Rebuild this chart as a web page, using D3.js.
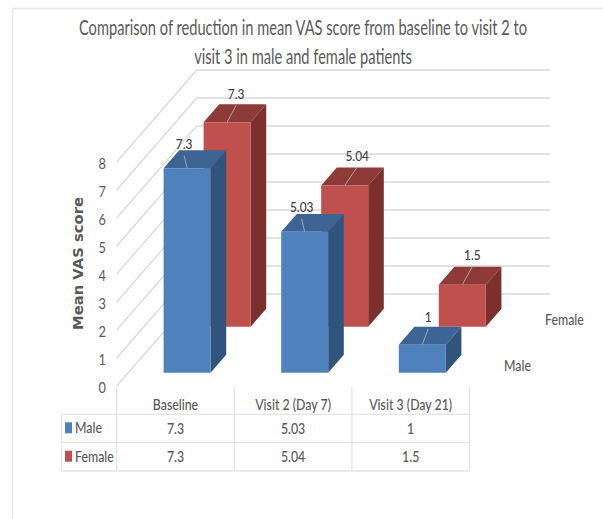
<!DOCTYPE html>
<html><head><meta charset="utf-8">
<script src="https://cdn.jsdelivr.net/npm/d3@7"></script>
<style>html,body{margin:0;padding:0;background:#fff}svg{display:block}</style>
</head><body><svg id="c" width="603" height="519"></svg>
<script>
const titleLines = ["Comparison of reduction in mean VAS score from baseline to visit 2 to","visit 3 in male and female patients"];
const categories = ["Baseline","Visit 2 (Day 7)","Visit 3 (Day 21)"];
const seriesNames = ["Male","Female"];
const maleValues = [7.3,5.03,1];
const femaleValues = [7.3,5.04,1.5];
const valueTicks = [0,1,2,3,4,5,6,7,8];
const yAxisTitle = "Mean VAS score";

const seriesData = [maleValues, femaleValues];
const colors = {
  Male:{front:"#4f81bd",top:"#3c6494",side:"#31547c"},
  Female:{front:"#c0504d",top:"#8e3a38",side:"#7b302e"}
};
const narrow = "Lato,'Open Sans',sans-serif";
const textCol = "#595959";
const gridCol = "#e2e2e2";

const svg = d3.select("#c");
const x = d3.scaleBand().domain(categories).range([116.7,469.5]);
const y = d3.scaleLinear().domain([0,8]).range([386,162]);
const depthBand = d3.scaleBand().domain(seriesNames).range([0,2]).paddingInner(0);
const dx = d3.scaleLinear().domain([0,2]).range([0,80]);
const dy = d3.scaleLinear().domain([0,2]).range([0,-92]);
const barW = 47, barDepth = 0.39, frontInset = 0.29;
const P = (px,v,d)=>[px+dx(d), y(v)+dy(d)];
// squeeze a text selection horizontally, the reference's type is condensed
const squeeze = (sel,k)=>sel.each(function(){
  const w = this.getComputedTextLength();
  d3.select(this).attr("lengthAdjust","spacingAndGlyphs").attr("textLength",w*k);
});

svg.append("path").attr("d","M12.5,519V8.5H603").attr("fill","none").attr("stroke","#e6e6e6").attr("stroke-width",1.3);

// title
const titleSel = svg.append("g").selectAll("text").data(titleLines).join("text")
  .attr("x",303).attr("y",(d,i)=>35+i*29).attr("text-anchor","middle")
  .attr("font-family",narrow).attr("font-size",21).attr("fill",textCol).text(d=>d);
squeeze(titleSel,448/titleSel.nodes()[0].getComputedTextLength());

// gridlines
const grid = svg.append("g").attr("fill","none");
grid.selectAll("path.side").data(valueTicks).join("path").attr("class","side")
  .attr("d",v=>d3.line()([P(x.range()[0],v,0),P(x.range()[0],v,2)]))
  .attr("stroke","#d9d9d9").attr("stroke-width",1.2);
grid.selectAll("path.back").data(valueTicks).join("path").attr("class","back")
  .attr("d",v=>d3.line()([P(x.range()[0],v,2),[550.7,y(v)+dy(2)]]))
  .attr("stroke",gridCol).attr("stroke-width",1.8);

// value tick labels
const axis = svg.append("g").attr("transform","translate(106,1.5)")
  .call(d3.axisLeft(y).tickValues(valueTicks).tickSize(0).tickPadding(0).tickFormat(d3.format("d")));
axis.select(".domain").remove();
axis.selectAll("text").attr("font-family",narrow).attr("font-size",15).attr("fill",textCol);
squeeze(axis.selectAll("text"),0.85);

// axis title
svg.append("text").attr("transform","translate(83,263.5) rotate(-90)").attr("text-anchor","middle")
  .attr("font-family","'DejaVu Sans',sans-serif").attr("font-weight","bold").attr("font-size",13.5)
  .attr("textLength",133).attr("lengthAdjust","spacingAndGlyphs")
  .attr("fill",textCol).text(yAxisTitle);

// 3D bars, back series first
const leaderOffsets = {Male:[[-3,-12.5],[-3,-13],[6,-16]],Female:[[9,-17],[12.5,-18.5],[10,-18]]};
const barsLayer = svg.append("g");
const labelsLayer = svg.append("g");
[1,0].forEach(si=>{
  const name = seriesNames[si], col = colors[name];
  const d0 = depthBand(name)+frontInset, d1 = d0+barDepth;
  const g = barsLayer.append("g");
  const rows = categories.map((c,i)=>({c,i,v:seriesData[si][i],l:x(c)+(x.bandwidth()-barW)/2}));
  const poly = pts=>"M"+pts.map(p=>p.join(",")).join("L")+"Z";
  g.selectAll("path.t").data(rows).join("path").attr("class","t").attr("fill",col.top)
    .attr("d",r=>poly([P(r.l,r.v,d0),P(r.l+barW,r.v,d0),P(r.l+barW,r.v,d1),P(r.l,r.v,d1)]));
  g.selectAll("path.s").data(rows).join("path").attr("class","s").attr("fill",col.side)
    .attr("d",r=>poly([P(r.l+barW,0,d0),P(r.l+barW,r.v,d0),P(r.l+barW,r.v,d1),P(r.l+barW,0,d1)]));
  g.selectAll("path.f").data(rows).join("path").attr("class","f").attr("fill",col.front)
    .attr("d",r=>poly([P(r.l,0,d0),P(r.l+barW,0,d0),P(r.l+barW,r.v,d0),P(r.l,r.v,d0)]));
  rows.forEach(r=>{
    const a = P(r.l+barW/2,r.v,d0), o = leaderOffsets[name][r.i];
    g.append("line").attr("x1",a[0]).attr("y1",a[1]).attr("x2",a[0]+o[0]).attr("y2",a[1]+o[1])
      .attr("stroke","#a6a6a6").attr("stroke-width",1);
    const t = labelsLayer.append("text").attr("x",a[0]+o[0]).attr("y",a[1]+o[1]-6.5).attr("text-anchor","middle")
      .attr("font-family",narrow).attr("font-size",14).attr("font-weight",500).attr("fill","#404040").text(r.v);
    squeeze(t,0.85);
  });
});

// depth-axis series names
const serLab = svg.append("g").selectAll("text").data(seriesNames).join("text")
  .attr("x",(d,i)=>i?545:504).attr("y",(d,i)=>i?325:370.5)
  .attr("font-family",narrow).attr("font-size",14.5).attr("font-weight",500).attr("fill",textCol).text(d=>d);
squeeze(serLab,0.85);

// data table
const tLeft = 61.7, rowY = [414.3,442.7,471], tTop = 386.7, tRight = x.range()[1];
const tbl = svg.append("g");
const tableLine = "#e4e4e4";
rowY.forEach(yy=>tbl.append("line").attr("x1",tLeft).attr("x2",tRight).attr("y1",yy).attr("y2",yy).attr("stroke",tableLine).attr("stroke-width",1.3));
tbl.append("line").attr("x1",tLeft).attr("x2",tLeft).attr("y1",rowY[0]).attr("y2",rowY[2]).attr("stroke",tableLine).attr("stroke-width",1.3);
[...categories.map(c=>x(c)),tRight].forEach(xx=>tbl.append("line").attr("x1",xx).attr("x2",xx).attr("y1",tTop).attr("y2",rowY[2]).attr("stroke",tableLine).attr("stroke-width",1.3));
const tText = (s,xx,yy,anchor)=>squeeze(tbl.append("text").attr("x",xx).attr("y",yy).attr("text-anchor",anchor)
  .attr("font-family",narrow).attr("font-size",14.5).attr("font-weight",500).attr("fill",textCol).text(s),0.85);
categories.forEach(c=>tText(c,x(c)+x.bandwidth()/2,410,"middle"));
seriesNames.forEach((n,si)=>{
  tbl.append("rect").attr("x",65).attr("y",rowY[si]+8).attr("width",7).attr("height",11).attr("fill",colors[n].front);
  tText(n,75,rowY[si]+19,"start");
  categories.forEach((c,i)=>tText(seriesData[si][i],x(c)+x.bandwidth()/2,rowY[si]+19.5,"middle"));
});
</script></body></html>
